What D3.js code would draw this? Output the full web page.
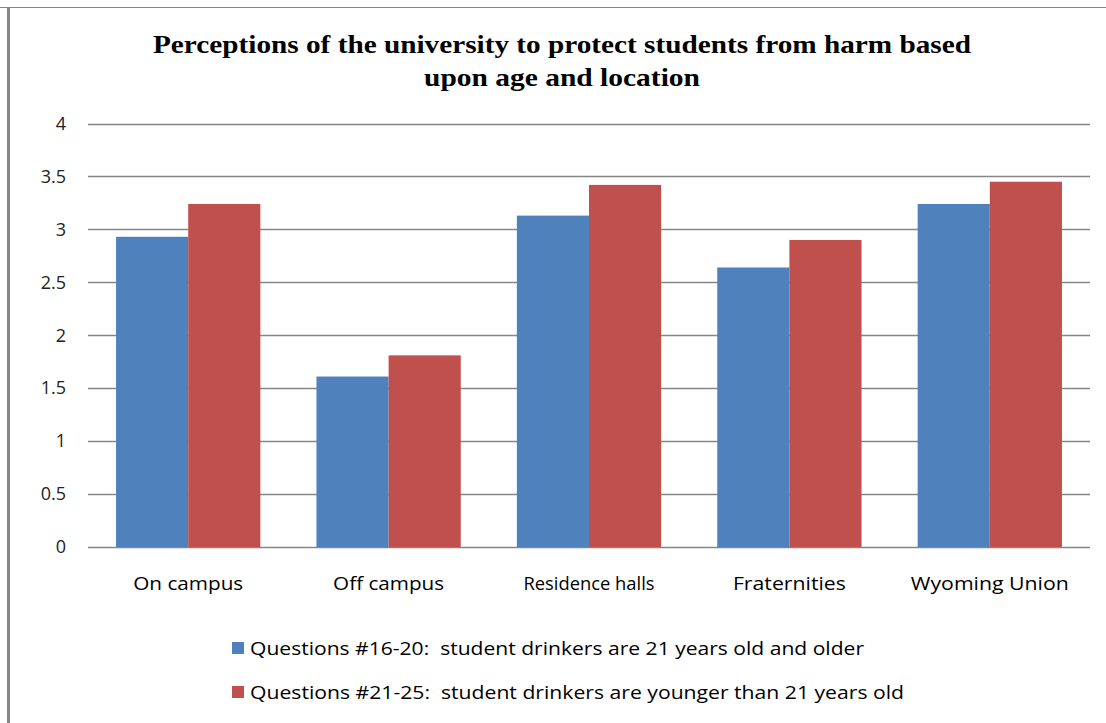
<!DOCTYPE html>
<html>
<head>
<meta charset="utf-8">
<script src="https://cdn.jsdelivr.net/npm/d3@7"></script>
<style>
  html, body { margin: 0; padding: 0; background: #ffffff; }
  svg { display: block; }
  text { white-space: pre; }
</style>
</head>
<body>
<svg id="chart" width="1106" height="723"></svg>
<script>
// Locations surveyed
const categories = ["On campus", "Off campus", "Residence halls", "Fraternities", "Wyoming Union"];

// Mean perception scores by question block
const seriesNames = [
  "Questions #16-20:  student drinkers are 21 years old and older",
  "Questions #21-25:  student drinkers are younger than 21 years old"
];
const olderValues = [2.93, 1.61, 3.13, 2.64, 3.24];
const youngerValues = [3.24, 1.81, 3.42, 2.90, 3.45];
const seriesValues = [olderValues, youngerValues];

const yTicks = [0, 0.5, 1, 1.5, 2, 2.5, 3, 3.5, 4];
const titleLines = [
  "Perceptions of the university to protect students from harm based",
  "upon age and location"
];

const colors = ["#4f81bd", "#c0504d"];
const gridColor = "#868686";
const textColor = "#000000";
const sansFont = "'Open Sans', Lato, 'Liberation Sans', sans-serif";

// Rendered widths of the label strings
const categoryLabelWidths = [110, 111, 131, 113, 158];
const legendLabelWidths = [614, 654];

const svg = d3.select("#chart");

// Chart frame (left and top border)
svg.append("line")
  .attr("x1", 0).attr("x2", 1106).attr("y1", 7.5).attr("y2", 7.5)
  .attr("stroke", gridColor).attr("stroke-width", 1);
svg.append("line")
  .attr("x1", 8.5).attr("x2", 8.5).attr("y1", 7).attr("y2", 723)
  .attr("stroke", gridColor).attr("stroke-width", 3);

// Plot area
const plot = { left: 88, right: 1090, top: 123.5, bottom: 547 };

const y = d3.scaleLinear().domain([0, 4]).range([plot.bottom, plot.top]);
const x0 = d3.scaleBand().domain(categories).range([plot.left, plot.right]).padding(0);
const x1 = d3.scaleBand().domain(d3.range(seriesNames.length))
  .range([x0.bandwidth() * 0.14, x0.bandwidth() * 0.86]).padding(0);

// Title
svg.append("g").selectAll("text")
  .data(titleLines)
  .join("text")
  .attr("x", 562)
  .attr("y", (d, i) => 53 + i * 33)
  .attr("text-anchor", "middle")
  .attr("font-family", "'Liberation Serif', 'Times New Roman', serif")
  .attr("font-weight", "bold")
  .attr("font-size", 25)
  .attr("textLength", (d, i) => i === 0 ? 818 : 276)
  .attr("lengthAdjust", "spacingAndGlyphs")
  .attr("fill", textColor)
  .text(d => d);

// Value axis labels
const yAxis = d3.axisLeft(y).tickValues(yTicks).tickSize(0).tickPadding(22)
  .tickFormat(d3.format("~g"));
const yg = svg.append("g")
  .attr("transform", `translate(${plot.left},0)`)
  .call(yAxis);
yg.select(".domain").remove();
yg.selectAll("text")
  .attr("font-family", sansFont)
  .attr("font-size", 18)
  .attr("fill", "#222");

// Horizontal gridlines
svg.append("g").selectAll("line")
  .data(yTicks)
  .join("line")
  .attr("x1", plot.left).attr("x2", plot.right)
  .attr("y1", d => Math.round(y(d)) + 0.5)
  .attr("y2", d => Math.round(y(d)) + 0.5)
  .attr("stroke", gridColor)
  .attr("stroke-width", 1.4);

// Bars
const groups = svg.append("g").selectAll("g")
  .data(categories)
  .join("g")
  .attr("transform", d => `translate(${x0(d)},0)`);

groups.selectAll("rect")
  .data((c, ci) => seriesValues.map((vals, si) => ({ si, v: vals[ci] })))
  .join("rect")
  .attr("x", d => x1(d.si))
  .attr("width", x1.bandwidth())
  .attr("y", d => y(d.v))
  .attr("height", d => y(0) - y(d.v))
  .attr("fill", d => colors[d.si]);

// Category axis
const xAxis = d3.axisBottom(x0).tickSize(0).tickPadding(30);
const xg = svg.append("g")
  .attr("transform", `translate(0,${plot.bottom})`)
  .call(xAxis);
xg.select(".domain").remove();
xg.selectAll("text")
  .attr("font-family", sansFont)
  .attr("font-size", 19)
  .attr("fill", textColor)
  .attr("textLength", (d, i) => categoryLabelWidths[i])
  .attr("lengthAdjust", "spacingAndGlyphs");

// Legend
const legend = svg.append("g").selectAll("g")
  .data(seriesNames)
  .join("g")
  .attr("transform", (d, i) => `translate(232,${648 + i * 44})`);
legend.append("rect")
  .attr("x", 0).attr("y", -6)
  .attr("width", 12).attr("height", 12)
  .attr("fill", (d, i) => colors[i]);
legend.append("text")
  .attr("x", 18).attr("y", 0)
  .attr("dy", "0.35em")
  .attr("font-family", sansFont)
  .attr("font-size", 19)
  .attr("fill", textColor)
  .attr("textLength", (d, i) => legendLabelWidths[i])
  .attr("lengthAdjust", "spacingAndGlyphs")
  .text(d => d);
</script>
</body>
</html>
